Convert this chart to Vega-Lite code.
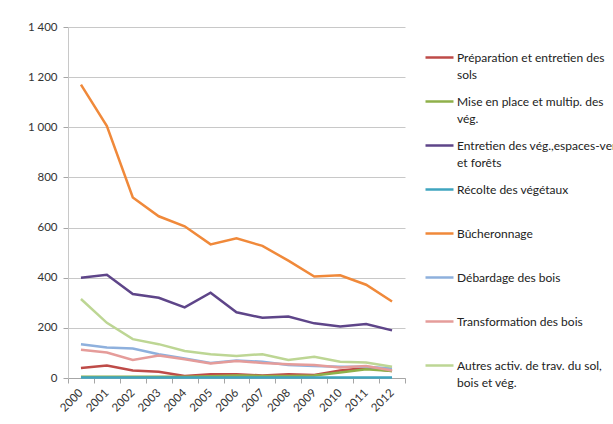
{
  "$schema": "https://vega.github.io/schema/vega-lite/v6.json",
  "width": 337,
  "height": 351,
  "autosize": "none",
  "padding": {"left": 68, "top": 27, "right": 208, "bottom": 46},
  "background": "white",
  "config": {
    "view": {"stroke": null},
    "font": "Lato",
    "axis": {"labelFont": "Lato", "labelFontSize": 11.5, "labelColor": "#333333"},
    "legend": {"labelFont": "Lato", "labelFontSize": 12, "labelColor": "#222222"}
  },
  "datasets": {
    "series": [
      {"year": "2000", "series": "Préparation et entretien des sols", "value": 40},
      {"year": "2001", "series": "Préparation et entretien des sols", "value": 50},
      {"year": "2002", "series": "Préparation et entretien des sols", "value": 30},
      {"year": "2003", "series": "Préparation et entretien des sols", "value": 25},
      {"year": "2004", "series": "Préparation et entretien des sols", "value": 8},
      {"year": "2005", "series": "Préparation et entretien des sols", "value": 15},
      {"year": "2006", "series": "Préparation et entretien des sols", "value": 15},
      {"year": "2007", "series": "Préparation et entretien des sols", "value": 10},
      {"year": "2008", "series": "Préparation et entretien des sols", "value": 15},
      {"year": "2009", "series": "Préparation et entretien des sols", "value": 12},
      {"year": "2010", "series": "Préparation et entretien des sols", "value": 30},
      {"year": "2011", "series": "Préparation et entretien des sols", "value": 40},
      {"year": "2012", "series": "Préparation et entretien des sols", "value": 28},

      {"year": "2000", "series": "Mise en place et multip. des vég.", "value": 5},
      {"year": "2001", "series": "Mise en place et multip. des vég.", "value": 5},
      {"year": "2002", "series": "Mise en place et multip. des vég.", "value": 5},
      {"year": "2003", "series": "Mise en place et multip. des vég.", "value": 5},
      {"year": "2004", "series": "Mise en place et multip. des vég.", "value": 5},
      {"year": "2005", "series": "Mise en place et multip. des vég.", "value": 7},
      {"year": "2006", "series": "Mise en place et multip. des vég.", "value": 10},
      {"year": "2007", "series": "Mise en place et multip. des vég.", "value": 8},
      {"year": "2008", "series": "Mise en place et multip. des vég.", "value": 8},
      {"year": "2009", "series": "Mise en place et multip. des vég.", "value": 10},
      {"year": "2010", "series": "Mise en place et multip. des vég.", "value": 22},
      {"year": "2011", "series": "Mise en place et multip. des vég.", "value": 35},
      {"year": "2012", "series": "Mise en place et multip. des vég.", "value": 28},

      {"year": "2000", "series": "Entretien des vég.,espaces-verts et forêts", "value": 400},
      {"year": "2001", "series": "Entretien des vég.,espaces-verts et forêts", "value": 412},
      {"year": "2002", "series": "Entretien des vég.,espaces-verts et forêts", "value": 335},
      {"year": "2003", "series": "Entretien des vég.,espaces-verts et forêts", "value": 320},
      {"year": "2004", "series": "Entretien des vég.,espaces-verts et forêts", "value": 282},
      {"year": "2005", "series": "Entretien des vég.,espaces-verts et forêts", "value": 340},
      {"year": "2006", "series": "Entretien des vég.,espaces-verts et forêts", "value": 262},
      {"year": "2007", "series": "Entretien des vég.,espaces-verts et forêts", "value": 240},
      {"year": "2008", "series": "Entretien des vég.,espaces-verts et forêts", "value": 245},
      {"year": "2009", "series": "Entretien des vég.,espaces-verts et forêts", "value": 218},
      {"year": "2010", "series": "Entretien des vég.,espaces-verts et forêts", "value": 205},
      {"year": "2011", "series": "Entretien des vég.,espaces-verts et forêts", "value": 215},
      {"year": "2012", "series": "Entretien des vég.,espaces-verts et forêts", "value": 190},

      {"year": "2000", "series": "Récolte des végétaux", "value": 2},
      {"year": "2001", "series": "Récolte des végétaux", "value": 2},
      {"year": "2002", "series": "Récolte des végétaux", "value": 2},
      {"year": "2003", "series": "Récolte des végétaux", "value": 2},
      {"year": "2004", "series": "Récolte des végétaux", "value": 2},
      {"year": "2005", "series": "Récolte des végétaux", "value": 2},
      {"year": "2006", "series": "Récolte des végétaux", "value": 2},
      {"year": "2007", "series": "Récolte des végétaux", "value": 2},
      {"year": "2008", "series": "Récolte des végétaux", "value": 2},
      {"year": "2009", "series": "Récolte des végétaux", "value": 2},
      {"year": "2010", "series": "Récolte des végétaux", "value": 2},
      {"year": "2011", "series": "Récolte des végétaux", "value": 2},
      {"year": "2012", "series": "Récolte des végétaux", "value": 2},

      {"year": "2000", "series": "Bûcheronnage", "value": 1170},
      {"year": "2001", "series": "Bûcheronnage", "value": 1005},
      {"year": "2002", "series": "Bûcheronnage", "value": 720},
      {"year": "2003", "series": "Bûcheronnage", "value": 645},
      {"year": "2004", "series": "Bûcheronnage", "value": 605},
      {"year": "2005", "series": "Bûcheronnage", "value": 533},
      {"year": "2006", "series": "Bûcheronnage", "value": 557},
      {"year": "2007", "series": "Bûcheronnage", "value": 527},
      {"year": "2008", "series": "Bûcheronnage", "value": 468},
      {"year": "2009", "series": "Bûcheronnage", "value": 405},
      {"year": "2010", "series": "Bûcheronnage", "value": 410},
      {"year": "2011", "series": "Bûcheronnage", "value": 372},
      {"year": "2012", "series": "Bûcheronnage", "value": 305},

      {"year": "2000", "series": "Débardage des bois", "value": 135},
      {"year": "2001", "series": "Débardage des bois", "value": 122},
      {"year": "2002", "series": "Débardage des bois", "value": 118},
      {"year": "2003", "series": "Débardage des bois", "value": 95},
      {"year": "2004", "series": "Débardage des bois", "value": 78},
      {"year": "2005", "series": "Débardage des bois", "value": 60},
      {"year": "2006", "series": "Débardage des bois", "value": 70},
      {"year": "2007", "series": "Débardage des bois", "value": 65},
      {"year": "2008", "series": "Débardage des bois", "value": 52},
      {"year": "2009", "series": "Débardage des bois", "value": 48},
      {"year": "2010", "series": "Débardage des bois", "value": 45},
      {"year": "2011", "series": "Débardage des bois", "value": 45},
      {"year": "2012", "series": "Débardage des bois", "value": 38},

      {"year": "2000", "series": "Transformation des bois", "value": 113},
      {"year": "2001", "series": "Transformation des bois", "value": 102},
      {"year": "2002", "series": "Transformation des bois", "value": 72},
      {"year": "2003", "series": "Transformation des bois", "value": 90},
      {"year": "2004", "series": "Transformation des bois", "value": 75},
      {"year": "2005", "series": "Transformation des bois", "value": 58},
      {"year": "2006", "series": "Transformation des bois", "value": 68},
      {"year": "2007", "series": "Transformation des bois", "value": 60},
      {"year": "2008", "series": "Transformation des bois", "value": 55},
      {"year": "2009", "series": "Transformation des bois", "value": 52},
      {"year": "2010", "series": "Transformation des bois", "value": 42},
      {"year": "2011", "series": "Transformation des bois", "value": 48},
      {"year": "2012", "series": "Transformation des bois", "value": 30},

      {"year": "2000", "series": "Autres activ. de trav. du sol, bois et vég.", "value": 315},
      {"year": "2001", "series": "Autres activ. de trav. du sol, bois et vég.", "value": 220},
      {"year": "2002", "series": "Autres activ. de trav. du sol, bois et vég.", "value": 155},
      {"year": "2003", "series": "Autres activ. de trav. du sol, bois et vég.", "value": 135},
      {"year": "2004", "series": "Autres activ. de trav. du sol, bois et vég.", "value": 108},
      {"year": "2005", "series": "Autres activ. de trav. du sol, bois et vég.", "value": 95},
      {"year": "2006", "series": "Autres activ. de trav. du sol, bois et vég.", "value": 88},
      {"year": "2007", "series": "Autres activ. de trav. du sol, bois et vég.", "value": 95},
      {"year": "2008", "series": "Autres activ. de trav. du sol, bois et vég.", "value": 72},
      {"year": "2009", "series": "Autres activ. de trav. du sol, bois et vég.", "value": 85},
      {"year": "2010", "series": "Autres activ. de trav. du sol, bois et vég.", "value": 65},
      {"year": "2011", "series": "Autres activ. de trav. du sol, bois et vég.", "value": 62},
      {"year": "2012", "series": "Autres activ. de trav. du sol, bois et vég.", "value": 45}
    ]
  },
  "data": {"name": "series"},
  "mark": {"type": "line", "strokeWidth": 2.5},
  "encoding": {
    "x": {
      "field": "year",
      "type": "ordinal",
      "scale": {"type": "band", "paddingInner": 0, "paddingOuter": 0},
      "axis": {
        "title": null,
        "labelAngle": -45,
        "labelAlign": "right",
        "labelBaseline": "middle",
        "tickBand": "extent",
        "tickColor": "#a6a6a6",
        "domainColor": "#a6a6a6",
        "tickSize": 5,
        "labelPadding": 8,
        "grid": false
      }
    },
    "y": {
      "field": "value",
      "type": "quantitative",
      "scale": {"domain": [0, 1400], "nice": false},
      "axis": {
        "title": null,
        "values": [0, 200, 400, 600, 800, 1000, 1200, 1400],
        "labelExpr": "replace(format(datum.value, ','), ',', ' ')",
        "gridColor": "#c8c8c8",
        "domainColor": "#c8c8c8",
        "tickColor": "#a6a6a6",
        "tickSize": 5,
        "labelPadding": 6
      }
    },
    "color": {
      "field": "series",
      "type": "nominal",
      "scale": {
        "domain": [
          "Préparation et entretien des sols",
          "Mise en place et multip. des vég.",
          "Entretien des vég.,espaces-verts et forêts",
          "Récolte des végétaux",
          "Bûcheronnage",
          "Débardage des bois",
          "Transformation des bois",
          "Autres activ. de trav. du sol, bois et vég."
        ],
        "range": ["#be4b48", "#8fb04a", "#5e4589", "#3fa5bf", "#f0893a", "#8eb0dd", "#e59c9a", "#bdd694"]
      },
      "legend": {
        "title": null,
        "orient": "none",
        "legendX": 356,
        "legendY": 15,
        "symbolType": "stroke",
        "symbolSize": 784,
        "symbolStrokeWidth": 2.5,
        "labelOffset": 2,
        "labelLimit": 300,
        "rowPadding": 5,
        "labelBaseline": "alphabetic",
        "encode": {"labels": {"update": {"lineHeight": {"value": 17}, "dy": {"value": 4}}}},
        "labelExpr": "datum.label == 'Préparation et entretien des sols' ? ['Préparation et entretien des', 'sols'] : datum.label == 'Mise en place et multip. des vég.' ? ['Mise en place et multip. des', 'vég.'] : datum.label == 'Entretien des vég.,espaces-verts et forêts' ? ['Entretien des vég.,espaces-verts', 'et forêts'] : datum.label == 'Autres activ. de trav. du sol, bois et vég.' ? ['Autres activ. de trav. du sol,', 'bois et vég.'] : [datum.label, '']"
      }
    }
  }
}
